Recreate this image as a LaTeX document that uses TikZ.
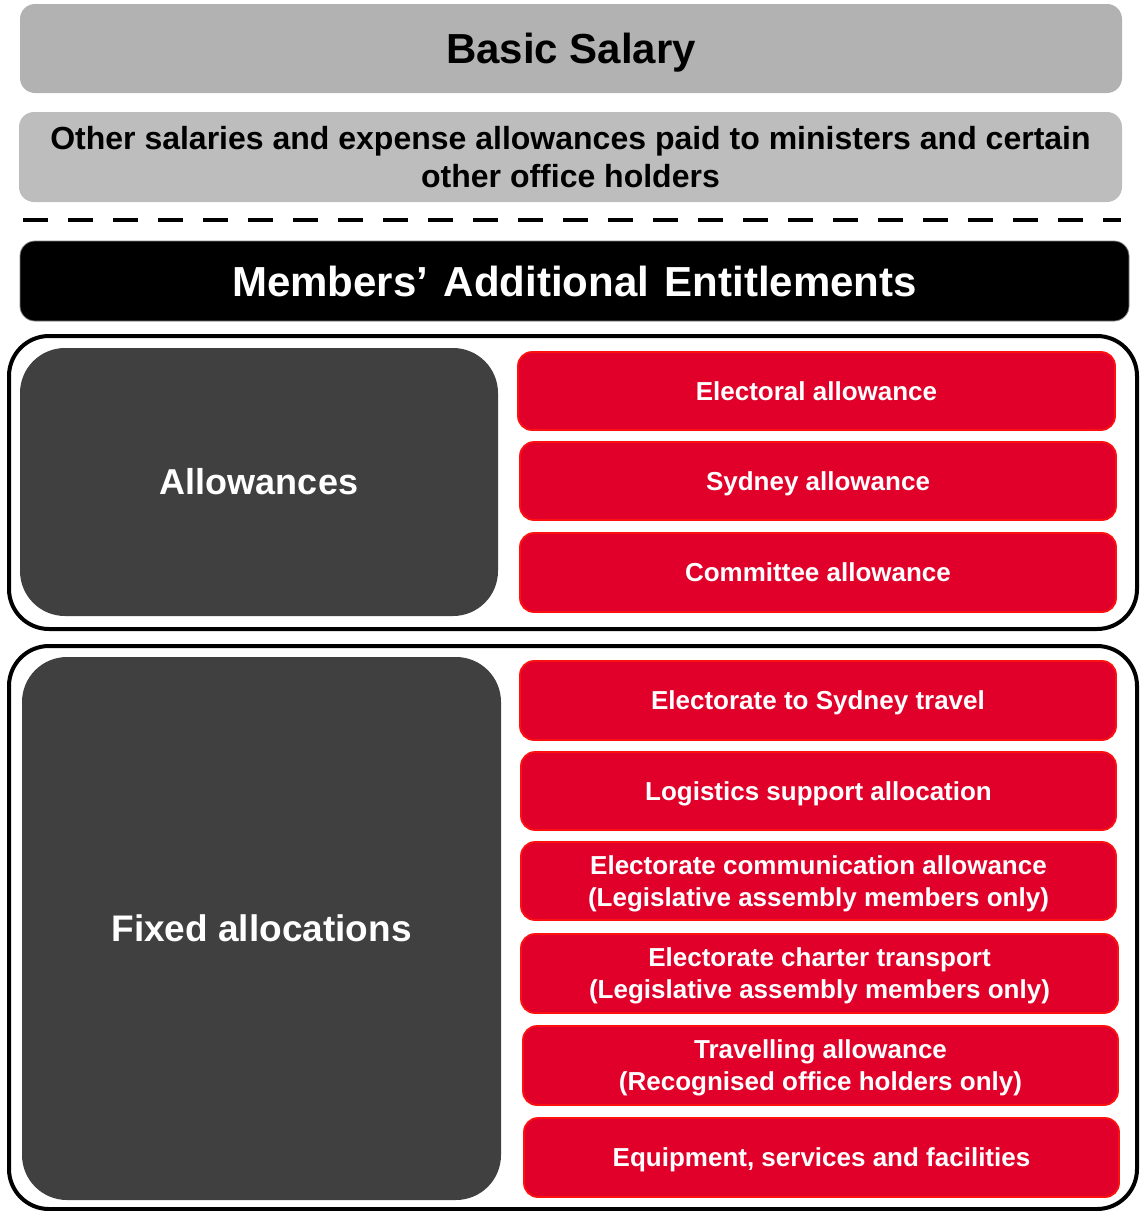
\documentclass[tikz,border=0pt]{standalone}
\usepackage{fontspec}
\setmainfont{Liberation Sans}
\definecolor{greyA}{HTML}{B2B2B2}
\definecolor{greyB}{HTML}{BDBDBD}
\definecolor{darkbg}{HTML}{404040}
\definecolor{redfill}{HTML}{E0002A}
\definecolor{redline}{HTML}{FF1010}
\tikzset{
  greybox/.style={fill=#1, rounded corners=15pt, inner sep=0pt, align=center, font=\bfseries},
  blackbox/.style={fill=black, draw=gray, line width=0.8pt, rounded corners=15pt, inner sep=0pt, text=white, font=\bfseries\fontsize{42}{48}\selectfont},
  framebox/.style={draw=black, line width=4pt, rounded corners=40pt},
  darkbox/.style={fill=darkbg, rounded corners=45pt, inner sep=0pt, text=white, font=\bfseries\fontsize{36}{42}\selectfont},
  redbox/.style={fill=redfill, draw=redline, line width=1.8pt, rounded corners=14pt, inner sep=0pt, minimum width=595pt, minimum height=78pt, text=white, align=center, text depth=0pt, font=\bfseries\fontsize{26}{32}\selectfont},
}
\begin{document}
\begin{tikzpicture}[x=1pt,y=-1pt]
\useasboundingbox (0,0) rectangle (1142,1211);
% top grey boxes
\node[greybox=greyA, minimum width=1102pt, minimum height=89pt, text depth=0pt, font=\bfseries\fontsize{42}{48}\selectfont] (basic) at (571,48.5) {Basic Salary};
\node[greybox=greyB, minimum width=1103pt, minimum height=90pt, font=\bfseries\fontsize{32}{38}\selectfont] (other) at (570.5,157) {Other salaries and expense allowances paid to ministers and certain\\other office holders};
% dashed separator
\coordinate (dl) at (23,220);
\coordinate (dr) at (1121,220);
\draw[line width=4.5pt, dash pattern=on 25pt off 20pt] (dl) -- (dr);
% header
\node[blackbox, minimum width=1109pt, minimum height=80pt] (mae) at (574.5,281) {Members’\hspace{4pt} Additional\hspace{4pt} Entitlements};
% allowances frame
\draw[framebox] (9,336) rectangle (1137,629);
\node[darkbox, minimum width=478pt, minimum height=268pt] (allow) at (259,482) {Allowances};
\node[redbox, minimum width=597pt] (r1) at (816.5,391) {Electoral allowance};
\node[redbox, minimum width=596pt] (r2) at (818,481) {Sydney allowance};
\node[redbox, minimum width=596pt, minimum height=79pt] (r3) at (818,572.5) {Committee allowance};
% fixed allocations frame
\draw[framebox] (9,646) rectangle (1137,1209);
\node[darkbox, minimum width=479pt, minimum height=543pt, font=\bfseries\fontsize{37}{42}\selectfont] (fixed) at (261.5,928.5) {Fixed allocations};
\node[redbox, minimum width=596pt, minimum height=79pt] (f1) at (818,700.5) {Electorate to Sydney travel};
\node[redbox, minimum width=595pt] (f2) at (818.5,791) {Logistics support allocation};
\node[redbox, minimum width=595pt] (f3) at (818.5,881) {Electorate communication allowance\\(Legislative assembly members only)};
\node[redbox, minimum width=597pt, minimum height=79pt] (f4) at (819.5,973.5) {Electorate charter transport\\(Legislative assembly members only)};
\node[redbox, minimum width=595pt, minimum height=79pt] (f5) at (820.5,1065.5) {Travelling allowance\\(Recognised office holders only)};
\node[redbox, minimum width=595pt, minimum height=79pt] (f6) at (821.5,1157.5) {Equipment, services and facilities};
\end{tikzpicture}
\end{document}
